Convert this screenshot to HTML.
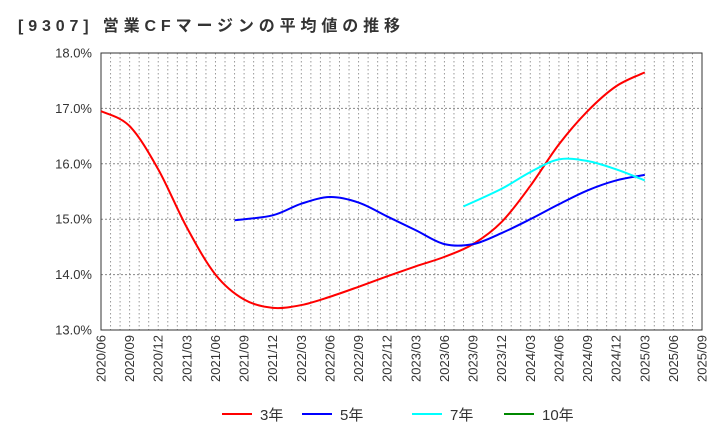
<!DOCTYPE html>
<html><head><meta charset="utf-8"><style>
body{margin:0;background:#fff;font-family:"Liberation Sans","Noto Sans CJK JP",sans-serif;}
svg text{font-family:"Liberation Sans","Noto Sans CJK JP",sans-serif;}
</style></head><body>
<svg id="c" width="720" height="440" xmlns="http://www.w3.org/2000/svg">
<text x="18" y="31" font-size="16" font-weight="bold" fill="#333" textLength="382" lengthAdjust="spacing">[9307]  営業CFマージンの平均値の推移</text>
<g id="grid"></g><g id="axes"></g><g id="series"></g><g id="legend"></g>
</svg>
<script>
const yTicks=[13,14,15,16,17,18];
const xLabels=["2020/06","2020/09","2020/12","2021/03","2021/06","2021/09","2021/12","2022/03","2022/06","2022/09","2022/12","2023/03","2023/06","2023/09","2023/12","2024/03","2024/06","2024/09","2024/12","2025/03","2025/06","2025/09"];
// months since 2020/06
const m3=[0,3,6,9,12,15,18,21,24,27,30,33,36,39,42,45,48,51,54,57];
const v3=[16.95,16.68,15.9,14.85,14.0,13.55,13.4,13.45,13.6,13.78,13.97,14.15,14.32,14.55,14.95,15.6,16.35,16.95,17.4,17.65];
const m5=[14,18,21,24,27,30,33,36,39,42,45,48,51,54,57];
const v5=[14.98,15.07,15.28,15.4,15.3,15.05,14.8,14.55,14.55,14.75,15.0,15.27,15.52,15.7,15.8];
const m7=[38,42,45,48,51,54,57];
const v7=[15.23,15.55,15.85,16.08,16.05,15.9,15.7];
const m10=[];const v10=[];
const L=101,R=702,T=53,B=330,NS="http://www.w3.org/2000/svg";
const xs=m=>L+m*(R-L)/63;
const ys=v=>B-(v-13)*(B-T)/5;
function mk(t,a,p){const e=document.createElementNS(NS,t);for(const k in a)e.setAttribute(k,a[k]);p.appendChild(e);return e;}
const g=document.getElementById('grid'),ax=document.getElementById('axes'),s=document.getElementById('series'),lg=document.getElementById('legend');
for(let m=1;m<63;m++){const l=mk('line',{x1:xs(m),x2:xs(m),y1:T,y2:B,stroke:'#999','stroke-dasharray':'1.5,2.5'},g);

}
yTicks.forEach(v=>{if(v>13&&v<18){const l=mk('line',{x1:L,x2:R,y1:ys(v),y2:ys(v),stroke:'#888','stroke-dasharray':'2,2'},g);

}
const t=mk('text',{x:L-9,y:ys(v)+4.5,'font-size':13,'text-anchor':'end',fill:'#333'},ax);t.textContent=v.toFixed(1)+'%';

});
const fr=mk('rect',{x:L,y:T,width:R-L,height:B-T,fill:'none',stroke:'#333'},ax);


xLabels.forEach((lab,i)=>{const x=xs(i*3);const t=mk('text',{x:0,y:0,'font-size':13,'text-anchor':'end',fill:'#333',transform:`translate(${x+4.5},${B+5}) rotate(-90)`},ax);t.textContent=lab;

});
function path(ms,vs){const p=ms.map((m,i)=>[xs(m),ys(vs[i])]);if(p.length<2)return'';let d=`M${p[0][0]},${p[0][1]}`;
for(let i=0;i<p.length-1;i++){const p0=p[i-1]||p[i],p1=p[i],p2=p[i+1],p3=p[i+2]||p2;
d+=` C${p1[0]+(p2[0]-p0[0])/6},${p1[1]+(p2[1]-p0[1])/6} ${p2[0]-(p3[0]-p1[0])/6},${p2[1]-(p3[1]-p1[1])/6} ${p2[0]},${p2[1]}`;}return d;}
const ser=[[m3,v3,'#f00','3年','line-3yr'],[m5,v5,'#00f','5年','line-5yr'],[m7,v7,'#0ff','7年','line-7yr'],[m10,v10,'#080','10年','line-10yr']];
const lx=[222,302,412,504];
ser.forEach((S,i)=>{if(S[0].length>1){const p=mk('path',{d:path(S[0],S[1]),fill:'none',stroke:S[2],'stroke-width':2},s);

}
const gi=mk('g',{},lg);


mk('line',{x1:lx[i],x2:lx[i]+30,y1:414,y2:414,stroke:S[2],'stroke-width':2},gi);
const t=mk('text',{x:lx[i]+38,y:420,'font-size':15,fill:'#333'},gi);t.textContent=S[3];});
</script>
</body></html>
